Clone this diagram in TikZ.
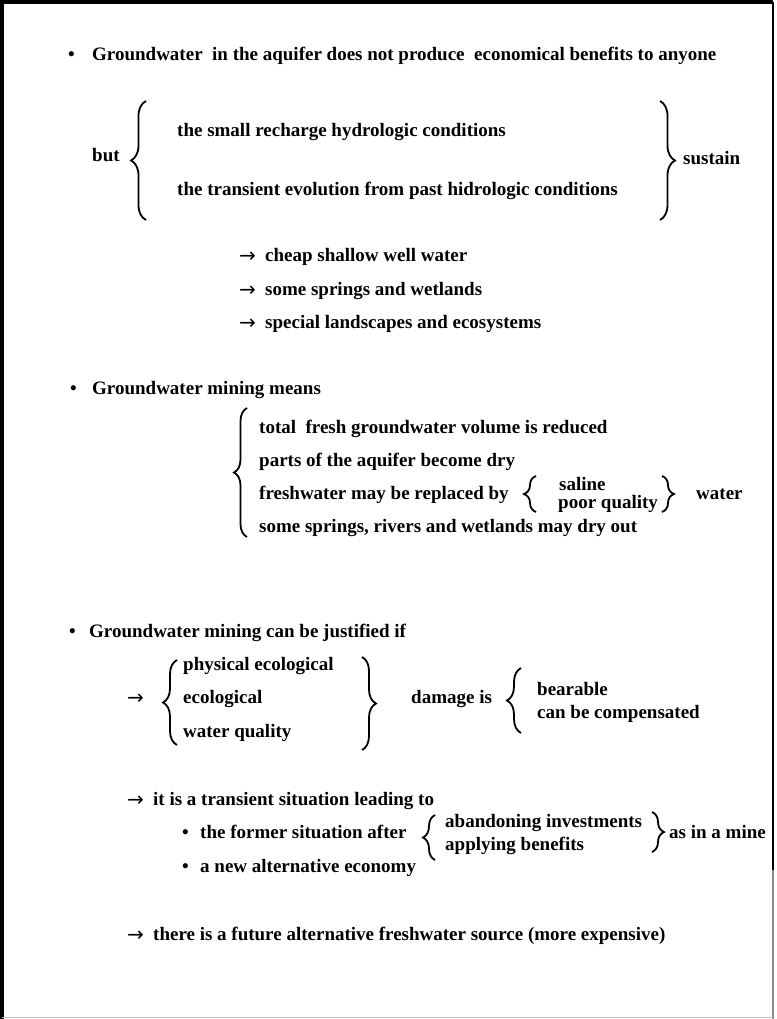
\documentclass[tikz,border=0pt]{standalone}
\usepackage{fontspec}
\setmainfont{Liberation Serif}
\newfontfamily\arrowfont{DejaVu Sans}
\usetikzlibrary{decorations.pathreplacing}
\tikzset{
  tx/.style={anchor=base west, inner sep=0pt, font=\bfseries\fontsize{19}{22}\selectfont},
  ar/.style={anchor=base west, inner sep=0pt, font=\arrowfont\fontsize{20}{22}\selectfont},
  bu/.style={anchor=base west, inner sep=0pt, font=\bfseries\fontsize{19}{22}\selectfont},
  brc/.style={decorate, line width=1.8pt, decoration={brace, amplitude=#1}},
  brc/.default=14pt,
  frame/.style={line width=4pt, black}
}
\begin{document}
\begin{tikzpicture}[x=1pt, y=-1pt]
\useasboundingbox (0,0) rectangle (776,1019);
% frame
\draw[frame] (2,1019) -- (2,2) -- (773,2);
\draw[line width=2.4pt] (773,2) -- (773,870);
\draw[line width=2pt, black!45] (773,870) -- (773,1019);
\draw[line width=1pt, black!25] (2,1017) -- (773,1017);

% ---- block 1
\node[bu] (b1) at (68,61) {•};
\node[tx] (l1) at (92,61) {Groundwater\ \ in the aquifer does not produce\ \ economical benefits to anyone};
\node[tx] (but) at (92,162) {but};
\node[tx] (s1) at (177,137) {the small recharge hydrologic conditions};
\node[tx] (s2) at (177,196) {the transient evolution from past hidrologic conditions};
\node[tx] (sus) at (683,165) {sustain};
\draw[brc=15pt] (146,220) -- (146,101);
\draw[brc=15pt] (660,101) -- (660,220);
\node[ar] (a1) at (239,262) {→};
\node[tx] (c1) at (265,261) {cheap shallow well water};
\node[ar] (a2) at (239,296) {→};
\node[tx] (c2) at (265,295) {some springs and wetlands};
\node[ar] (a3) at (239,329) {→};
\node[tx] (c3) at (265,328) {special landscapes and ecosystems};

% ---- block 2
\node[bu] (b2) at (70,394) {•};
\node[tx] (l2) at (92,394) {Groundwater mining means};
\draw[brc=13pt] (247,537) -- (247,408);
\node[tx] (m1) at (259,433) {total\ \ fresh groundwater volume is reduced};
\node[tx] (m2) at (259,466) {parts of the aquifer become dry};
\node[tx] (m3) at (259,499) {freshwater may be replaced by};
\node[tx] (m4) at (259,532) {some springs, rivers and wetlands may dry out};
\draw[brc=12pt] (536,512) -- (536,476);
\node[tx] (sal) at (559,490) {saline};
\node[tx] (poor) at (558,508) {poor quality};
\draw[brc=12pt] (662,476) -- (662,512);
\node[tx] (wat) at (696,499) {water};

% ---- block 3
\node[bu] (b3) at (69,637) {•};
\node[tx] (l3) at (89,637) {Groundwater mining can be justified if};
\node[ar] (a4) at (127,704) {→};
\draw[brc=14pt] (177,745) -- (177,660);
\node[tx] (p1) at (183,670) {physical ecological};
\node[tx] (p2) at (183,703) {ecological};
\node[tx] (p3) at (183,737) {water quality};
\draw[brc=14pt] (362,657) -- (362,750);
\node[tx] (dam) at (411,703) {damage is};
\draw[brc=14pt] (521,733) -- (521,668);
\node[tx] (bear) at (537,695) {bearable};
\node[tx] (comp) at (537,718) {can be compensated};

\node[ar] (a5) at (127,806) {→};
\node[tx] (tr) at (153,805) {it is a transient situation leading to};
\node[bu] (b4) at (182,838) {•};
\node[tx] (fs) at (200,838) {the former situation after};
\draw[brc=12pt] (435,860) -- (435,815);
\node[tx] (aband) at (445,827) {abandoning investments};
\node[tx] (appl) at (445,850) {applying benefits};
\draw[brc=12pt] (652,812) -- (652,852);
\node[tx] (mine) at (669,838) {as in a mine};
\node[bu] (b5) at (182,872) {•};
\node[tx] (ne) at (200,872) {a new alternative economy};
\node[ar] (a6) at (127,941) {→};
\node[tx] (fu) at (153,940) {there is a future alternative freshwater source (more expensive)};
\end{tikzpicture}
\end{document}
